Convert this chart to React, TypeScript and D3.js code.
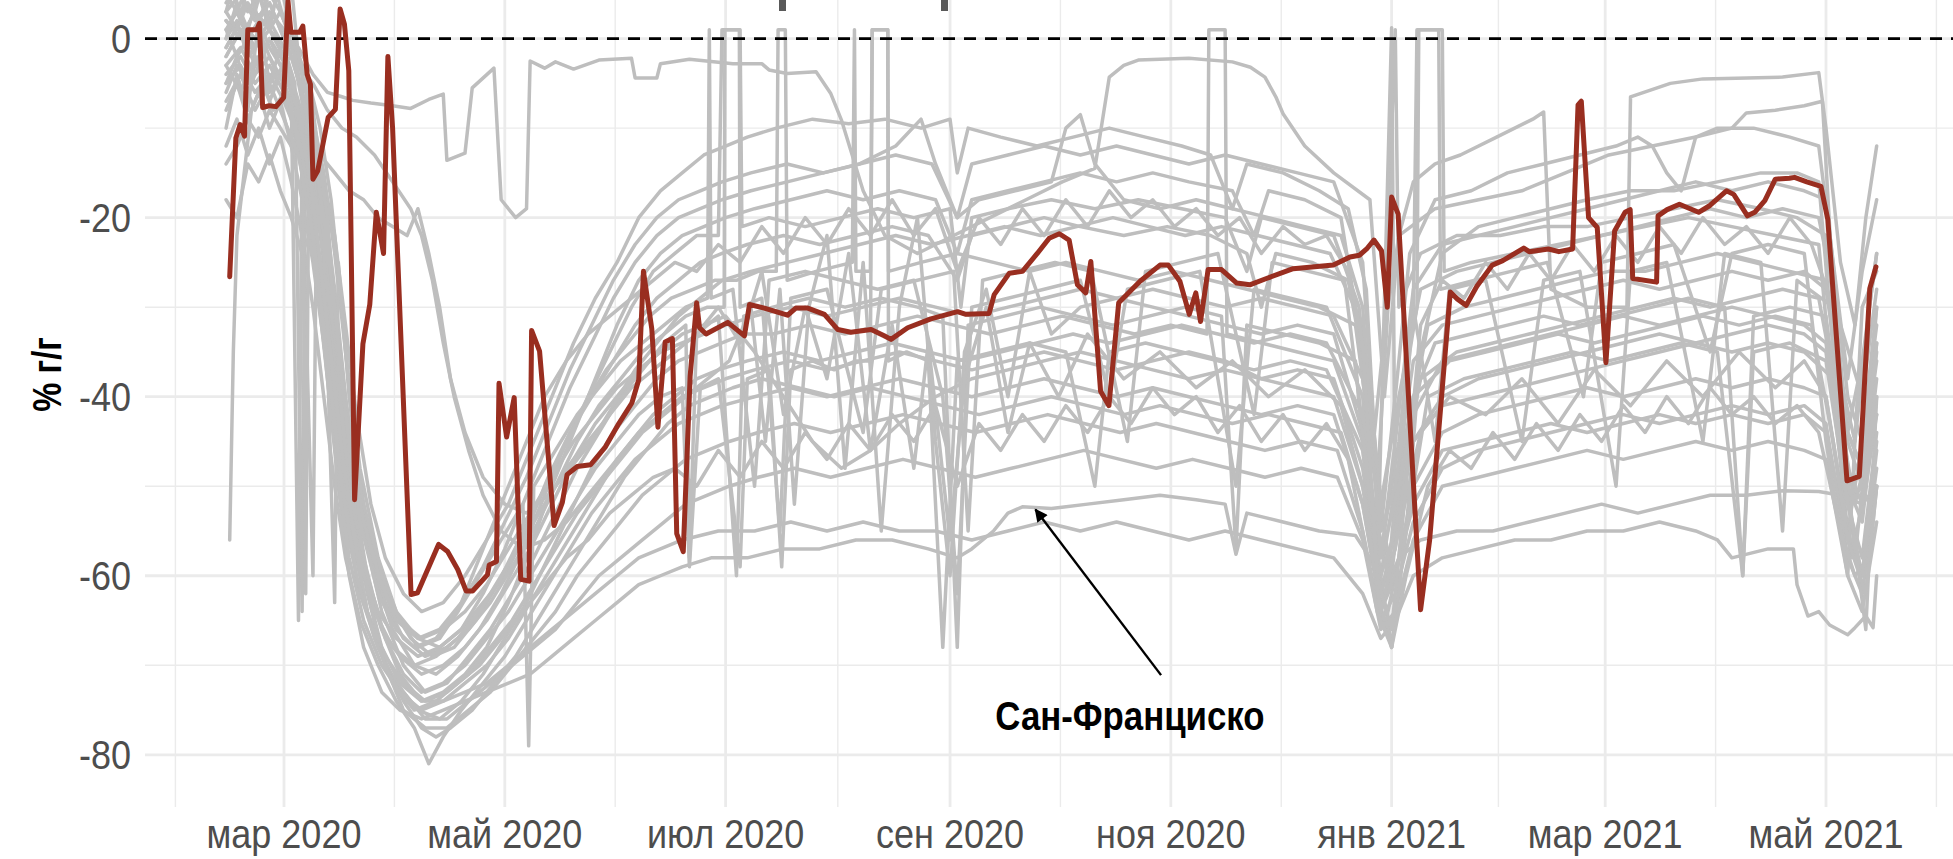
import React from "react";
import * as d3 from "d3";

// Day offsets are counted from 2020-03-01; values are % y/y
const START = Date.UTC(2020, 2, 1);
const monthNames = ["янв", "фев", "мар", "апр", "май", "июн", "июл", "авг", "сен", "окт", "ноя", "дек"];
const yTicks = [0, -20, -40, -60, -80];
const yMinor = [-10, -30, -50, -70];
const yTitle = "% г/г";
const annotationLabel = "Сан-Франциско";
const annotationText: [number, number] = [233.7, -77.2];
const annotationArrow: [number, number, number, number] = [242.3, -71.1, 207.6, -52.6];

const redCity: [number, number][] = [[-15,-26.6],[-13.3,-11.1],[-12.1,-9.6],[-10.9,-10.9],[-10,1],[-7.5,1],[-6.8,1.7],[-5.9,-7.7],[-4.1,-7.5],[-2.2,-7.6],[-0.1,-6.6],[1.1,4.2],[1.9,0.7],[4.3,0.7],[5.2,1.4],[6.4,-4],[7.3,-5.1],[8,-15.7],[9.3,-14.8],[12.2,-8.8],[14.2,-7.9],[15.5,3.3],[16.7,1.6],[17.9,-3.6],[19.5,-51.5],[21.8,-34.1],[23.7,-29.7],[25.5,-19.4],[27.5,-24],[28.7,-2],[30,-10],[35.1,-62.1],[36.9,-61.9],[42.7,-56.5],[45.2,-57.3],[48,-59.3],[50.3,-61.7],[52.1,-61.7],[56.2,-59.9],[56.7,-58.8],[58.7,-58.4],[59.4,-38.5],[61.5,-44.5],[63.6,-40.1],[65.4,-60.4],[67.7,-60.6],[68.4,-32.6],[70.6,-34.9],[74.6,-54.4],[76.9,-51.8],[78.2,-48.7],[81,-47.8],[84.7,-47.6],[88.8,-45.6],[92.5,-43],[96.1,-40.7],[98,-38.1],[99.3,-26],[101.6,-32.4],[103.3,-43.4],[105.3,-33.9],[107.3,-33.5],[108.5,-55.3],[110.3,-57.3],[112.2,-37.7],[114,-29.5],[114.8,-32.3],[116.6,-33],[122.6,-31.7],[127.2,-33.2],[128.6,-29.7],[132.7,-30.1],[139.1,-30.9],[141.4,-30.1],[144.7,-30.1],[149.3,-30.8],[153,-32.5],[156.6,-32.8],[162.2,-32.5],[165.8,-33.2],[167.7,-33.6],[172.3,-32.3],[178.7,-31.3],[186.1,-30.5],[188.4,-30.8],[194.8,-30.7],[196.2,-28.6],[200.4,-26.2],[204,-26],[208.1,-24],[211.4,-22.3],[214.2,-21.8],[216.9,-22.5],[219.2,-27.5],[221.5,-28.4],[222.9,-24.9],[225.6,-39.4],[227.9,-41],[230.6,-29.5],[236.5,-27.1],[242,-25.3],[244.3,-25.3],[247.5,-27.1],[250.1,-30.8],[251.9,-28.4],[253.2,-31.6],[255.3,-25.8],[259,-25.8],[263.2,-27.3],[266.8,-27.5],[271.4,-26.8],[278.8,-25.7],[289.9,-25.3],[294.5,-24.4],[297.1,-24.2],[299.1,-23.5],[301.1,-22.5],[303.2,-23.7],[304.8,-30],[306,-17.7],[307.8,-19.6],[314,-63.8],[316.5,-56],[322.2,-28.3],[324.2,-29.1],[326.6,-29.8],[329.5,-27.7],[333.8,-25.3],[336.7,-24.8],[342.5,-23.4],[344,-23.8],[349.3,-23.5],[352.2,-23.8],[356,-23.5],[357.5,-7.4],[358.4,-7],[360.4,-20],[362.8,-21.1],[365.2,-36.2],[367.6,-21.5],[370.5,-19.4],[371.9,-19.1],[372.6,-26.8],[379.2,-27.2],[379.6,-19.8],[382.1,-19.1],[385.5,-18.5],[390.8,-19.4],[393.7,-18.7],[398.5,-17],[400.5,-17.4],[404.3,-19.8],[406.3,-19.4],[409.1,-18.1],[412,-15.7],[415.9,-15.6],[417.3,-15.5],[420.7,-16],[424.6,-16.5],[426.5,-20.2],[431.8,-49.4],[435.2,-48.9],[438.1,-27.9],[439.8,-25.5]];

const city01: [number, number][] = [[-16,-1],[-12,2],[-8,-1],[-4,1],[0,-2],[4,-1],[8,-4],[12,-6],[16,-6.5],[19,-6.9],[24,-7.2],[30,-7.5],[35,-7.8],[40,-6.8],[44,-6.2],[45,-13.6],[50,-12.8],[52,-5.5],[58,-3.3],[60,-18],[64,-20],[67,-19],[68,-2.5],[72,-3.3],[75,-2.6],[80,-3.4],[87,-2.4],[96,-2.2],[97,-4.4],[103,-4.4],[104,-2.8],[112,-2.3],[124,-2.8],[132,-2.8],[134,-3.5],[139,-3.9],[147,-3.7],[151,-6.1],[154,-9.1],[160,-17],[166,-22],[175,-24],[185,-22],[195,-20],[205,-18],[215,-16],[224,-14.5],[228,-4.3],[232,-3],[236,-2.4],[250,-2.2],[262,-2.6],[267,-3.2],[271,-4.3],[274,-6.5],[276,-8.4],[282,-12],[290,-15],[300,-18],[304,-40],[308,-22],[312,-16],[318,-14],[325,-13],[335,-11],[345,-9],[348,-8.2],[350,-28],[360,-30],[371,-30],[372,-6.5],[383,-5],[392,-4.5],[414,-4.3],[424,-3.8],[426,-10],[430,-25],[434,-32],[437,-20],[440,-12]];
const city02: [number, number][] = [[-16,1],[-13,3],[-10,0],[-7,2],[-4,-1],[-1,-3],[2,-2],[5,-6],[8,-10],[11,-16],[14,-22],[17,-32],[20,-42],[24,-52],[28,-58],[33,-62],[38,-64],[44,-63],[50,-60],[56,-56],[62,-52],[68,-46],[74,-40],[80,-34],[86,-29],[92,-25],[98,-20],[104,-17],[110,-15],[116,-13],[122,-12],[128,-11],[136,-10],[146,-9],[156,-9.5],[166,-9],[176,-10],[184,-9],[186,-15],[189,-10],[198,-11],[208,-12],[218,-11],[228,-10],[238,-11],[248,-12],[256,-13],[262,-19],[266,-14],[276,-15],[286,-17],[294,-19],[299,-28],[302,-50],[305,-30],[308,-22],[318,-19],[330,-18],[342,-17],[354,-15],[366,-13],[378,-12],[390,-11],[400,-10],[404,-8.3],[412,-8],[420,-7.5],[425,-7],[428,-28],[432,-44],[436,-36],[440,-24]];
const city03: [number, number][] = [[-16,-3],[-12,-1],[-8,-4],[-4,-2],[0,-5],[3,-8],[6,-14],[9,-22],[12,-30],[15,-40],[18,-50],[22,-60],[27,-68],[32,-72],[38,-74],[44,-73],[50,-71],[56,-68],[62,-63],[68,-57],[74,-50],[80,-44],[86,-38],[92,-32],[98,-27],[104,-24],[110,-22],[116,-21],[122,-20],[130,-19],[140,-18],[150,-17],[160,-18],[170,-17],[180,-18],[186,-24],[190,-18],[200,-17],[210,-16],[220,-15],[230,-16],[240,-15],[250,-16],[262,-17],[268,-22],[272,-17],[282,-18],[292,-20],[298,-35],[302,-62],[306,-68],[310,-55],[314,-35],[320,-24],[330,-21],[340,-20],[350,-19],[360,-18],[372,-17],[384,-17],[396,-16],[408,-15],[418,-15],[424,-16],[428,-35],[432,-52],[436,-50],[440,-30]];
const city04: [number, number][] = [[-16,0],[-13,2],[-10,-2],[-6,0],[-2,-4],[1,-3],[4,-7],[7,-12],[10,-20],[13,-28],[16,-38],[20,-50],[25,-60],[30,-66],[36,-70],[42,-71],[48,-69],[54,-66],[60,-62],[66,-57],[72,-51],[78,-45],[84,-40],[90,-35],[96,-30],[102,-26],[108,-24],[114,-22],[120,-22],[121,1],[126,1],[126.5,-21],[134,-20],[144,-21],[154,-20],[164,-19],[174,-20],[184,-19],[187,-30],[190,-20],[200,-19],[212,-18],[224,-19],[236,-18],[248,-19],[260,-20],[266,-26],[270,-20],[280,-21],[290,-22],[297,-30],[301,-45],[304,-33],[307,1],[308,-30],[314,-24],[324,-22],[336,-22],[348,-21],[360,-21],[372,-20],[384,-19],[396,-18],[408,-19],[418,-20],[426,-22],[430,-38],[434,-45],[438,-30],[440,-24]];
const city05: [number, number][] = [[-16,4],[-13,6],[-10,3],[-7,5],[-4,1],[-1,3],[2,0],[5,-4],[8,-9],[11,-15],[14,-24],[17,-35],[21,-48],[26,-58],[31,-64],[37,-67],[43,-68],[49,-66],[55,-63],[61,-60],[67,-55],[73,-49],[79,-44],[85,-40],[91,-36],[97,-32],[103,-29],[109,-27],[115,-25],[121,-24],[128,-23],[138,-22],[148,-23],[158,-22],[168,-21],[178,-22],[186,-27],[190,-22],[200,-21],[210,-20],[220,-21],[232,-22],[244,-21],[256,-22],[266,-24],[270,-30],[274,-24],[284,-25],[294,-27],[300,-40],[304,-55],[308,-45],[312,-30],[313,1],[320,1],[320.5,-26],[328,-25],[340,-24],[352,-23],[364,-22],[376,-21],[388,-20],[400,-21],[412,-22],[424,-23],[428,-40],[432,-55],[436,-45],[440,-32]];
const city06: [number, number][] = [[-16,-6],[-13,-3],[-10,-5],[-7,-2],[-4,-6],[-1,-4],[2,-9],[5,-15],[8,-60],[9,-18],[12,-26],[15,-35],[19,-46],[24,-56],[29,-63],[35,-67],[41,-69],[47,-68],[53,-65],[59,-61],[65,-56],[71,-51],[77,-46],[83,-41],[89,-37],[95,-34],[101,-31],[107,-29],[113,-28],[119,-27],[125,-27],[131,-26],[136,-26],[136.5,1],[138.5,1],[139,-27],[147,-26],[157,-25],[157.6,1],[158,-26],[162,-26],[162.5,1],[166.8,1],[167,-26],[176,-25],[186,-24],[196,-25],[206,-26],[216,-25],[226,-26],[236,-27],[246,-26],[256,-27],[266,-28],[276,-29],[286,-30],[296,-32],[302,-50],[306,-60],[310,-45],[316,-32],[326,-30],[336,-29],[346,-28],[356,-27],[366,-26],[376,-26],[386,-25],[396,-24],[406,-25],[416,-26],[426,-27],[432,-45],[436,-50],[440,-34]];
const city07: [number, number][] = [[-16,2],[-12,0],[-8,3],[-4,1],[0,-1],[3,-5],[5,-64],[6,-8],[9,-12],[12,-22],[15,-33],[18,-44],[22,-55],[27,-64],[33,-70],[39,-73],[45,-72],[51,-69],[57,-66],[63,-62],[69,-58],[75,-53],[81,-48],[87,-44],[93,-40],[99,-37],[105,-34],[111,-32],[112,-58],[114,-33],[120,-31],[125,-60],[127,-31],[135,-30],[145,-29],[155,-30],[165,-29],[175,-30],[182,-31],[186,-68],[189,-32],[199,-31],[209,-30],[219,-31],[229,-32],[239,-31],[249,-30],[259,-31],[263,-57],[266,-32],[276,-33],[286,-34],[296,-36],[300,-55],[304,-66],[308,-58],[312,-40],[318,-34],[328,-33],[338,-32],[348,-31],[358,-32],[368,-31],[378,-30],[388,-29],[398,-30],[403,-60],[406,-31],[416,-30],[426,-31],[432,-50],[437,-66],[440,-40]];
const city08: [number, number][] = [[-16,-8],[-13,-5],[-10,-9],[-7,-6],[-4,-10],[-1,-7],[2,-12],[5,-18],[8,-25],[11,-34],[14,-44],[17,-54],[21,-62],[26,-68],[31,-72],[37,-75],[43,-76],[49,-74],[55,-71],[61,-67],[67,-63],[73,-58],[79,-53],[85,-48],[91,-44],[97,-41],[103,-38],[109,-36],[115,-35],[121,-34],[127,-33],[135,-33],[145,-32],[155,-33],[165,-32],[175,-31],[185,-32],[195,-33],[205,-32],[215,-31],[225,-32],[235,-33],[245,-32],[255,-33],[255.5,1],[260,1],[260.5,-33],[270,-34],[280,-35],[290,-36],[298,-45],[303,-60],[307,-50],[312,-40],[322,-36],[332,-35],[342,-34],[352,-33],[362,-34],[372,-33],[382,-32],[392,-31],[402,-32],[412,-31],[422,-32],[428,-45],[433,-58],[437,-50],[440,-42]];
const city09: [number, number][] = [[-16,1],[-13,-2],[-10,0],[-7,-3],[-4,0],[-1,-2],[2,-4],[5,-10],[8,-16],[11,-25],[14,-36],[18,-48],[22,-58],[27,-66],[32,-71],[38,-74],[44,-74],[50,-72],[56,-70],[62,-67],[68,-63],[74,-59],[80,-55],[86,-51],[92,-47],[98,-44],[104,-42],[110,-40],[116,-39],[122,-38],[130,-37],[140,-36],[150,-37],[160,-36],[170,-35],[180,-36],[190,-37],[200,-36],[210,-35],[220,-36],[230,-37],[240,-36],[250,-35],[260,-36],[270,-38],[280,-37],[290,-38],[298,-48],[303,-62],[307,-55],[312,-45],[320,-40],[330,-38],[340,-37],[350,-36],[360,-35],[370,-34],[380,-33],[390,-34],[400,-33],[410,-32],[420,-33],[426,-35],[432,-52],[436,-58],[440,-44]];
const city10: [number, number][] = [[-16,-12],[-13,-9],[-10,-13],[-7,-10],[-4,-14],[-1,-11],[2,-16],[5,-22],[8,-30],[11,-40],[14,-50],[17,-58],[21,-65],[26,-70],[31,-74],[36,-77],[40,-81],[44,-78],[49,-75],[55,-72],[61,-69],[67,-65],[73,-61],[79,-57],[85,-53],[91,-50],[97,-47],[103,-45],[109,-43],[115,-42],[121,-41],[130,-40],[140,-39],[150,-40],[160,-39],[170,-38],[180,-39],[190,-40],[200,-39],[210,-38],[220,-39],[230,-40],[240,-39],[250,-40],[260,-41],[270,-42],[280,-41],[290,-42],[298,-52],[303,-64],[307,-60],[312,-50],[320,-44],[330,-42],[340,-41],[350,-40],[360,-39],[370,-40],[380,-39],[390,-38],[400,-39],[410,-38],[420,-39],[426,-40],[432,-55],[436,-60],[440,-48]];
const city11: [number, number][] = [[-16,3],[-12,5],[-8,2],[-4,4],[0,0],[3,-3],[6,-9],[9,-18],[12,-28],[15,-40],[19,-52],[23,-62],[28,-70],[33,-75],[39,-77],[45,-77],[51,-75],[57,-73],[63,-70],[69,-67],[75,-64],[81,-60],[87,-57],[93,-54],[99,-51],[105,-49],[111,-47],[117,-46],[123,-45],[131,-44],[141,-43],[151,-44],[161,-43],[171,-42],[181,-43],[191,-44],[201,-43],[211,-42],[221,-43],[231,-44],[241,-43],[251,-44],[261,-45],[271,-46],[281,-45],[291,-46],[298,-55],[303,-65],[307,-62],[312,-54],[320,-48],[330,-46],[340,-45],[350,-44],[360,-43],[370,-42],[380,-43],[390,-42],[400,-41],[410,-42],[420,-41],[426,-43],[432,-58],[436,-62],[440,-50]];
const city12: [number, number][] = [[-16,-4],[-12,-2],[-8,-5],[-4,-3],[0,-6],[3,-9],[6,-15],[9,-24],[12,-34],[15,-45],[19,-56],[23,-64],[28,-70],[33,-73],[39,-76],[45,-76],[51,-74],[57,-72],[63,-70],[69,-68],[75,-66],[81,-63],[87,-60],[93,-58],[99,-56],[105,-54],[111,-52],[117,-51],[123,-50],[131,-49],[141,-48],[151,-49],[161,-48],[171,-47],[181,-48],[191,-49],[201,-48],[211,-47],[221,-46],[231,-47],[241,-48],[251,-47],[261,-48],[271,-49],[281,-48],[291,-49],[298,-56],[303,-66],[307,-64],[312,-56],[320,-50],[330,-49],[340,-48],[350,-47],[360,-46],[370,-47],[380,-46],[390,-45],[400,-46],[410,-45],[420,-46],[426,-47],[432,-60],[436,-64],[440,-54]];
const sanFrancisco: [number, number][] = [[-16,2],[-12,0],[-8,3],[-4,1],[0,-2],[3,-6],[6,-14],[9,-25],[12,-38],[15,-50],[18,-60],[22,-68],[27,-73],[32,-75],[38,-76],[44,-75],[50,-74],[56,-73],[62,-72],[68,-71],[74,-69],[80,-67],[86,-65],[92,-63],[98,-61],[104,-60],[110,-59],[118,-58],[128,-58],[138,-57],[148,-57],[158,-56],[168,-56],[178,-57],[186,-58],[190,-57],[196,-55],[200,-53],[204,-52.3],[212,-52.5],[222,-52],[232,-51.5],[242,-51],[252,-51.5],[260,-52],[263,-57.6],[266,-53],[276,-54],[286,-55],[296,-55.5],[300,-58],[304,-62],[308,-58],[314,-56],[324,-55],[334,-55],[344,-54],[354,-53],[364,-52],[374,-53],[384,-52],[394,-51],[404,-51],[414,-50.5],[424,-50.6],[430,-51],[436,-52],[440,-50]];
const city14: [number, number][] = [[-16,-5],[-12,-3],[-8,-6],[-4,-4],[0,-7],[3,-10],[6,-17],[9,-27],[12,-38],[15,-49],[18,-58],[22,-65],[27,-70],[32,-73],[38,-75],[44,-74],[50,-73],[56,-72],[62,-70],[68,-68],[74,-66],[80,-64],[86,-62],[92,-60],[98,-58],[104,-57],[110,-56],[120,-55],[130,-55],[140,-54],[150,-55],[160,-54],[170,-55],[180,-55],[190,-56],[200,-55],[210,-54],[220,-55],[230,-54],[240,-55],[250,-56],[260,-55],[270,-56],[280,-57],[290,-58],[298,-62],[303,-67],[307,-65],[312,-60],[320,-58],[330,-57],[340,-56],[350,-56],[360,-55],[370,-55],[380,-54],[390,-55],[396,-56],[400,-58],[410,-57],[417,-57],[418,-61],[421,-64.5],[424,-64],[427,-65.5],[432,-66.6],[434,-65.8],[437,-64.5],[439,-65.8],[440,-60]];
const city15: [number, number][] = [[-16,-10],[-13,-4],[-10,-8],[-7,2],[-4,-5],[-1,-1],[2,-6],[4,-65],[5,-10],[8,-14],[11,-22],[14,-63],[15,-25],[18,-40],[22,-52],[27,-60],[32,-65],[37,-68],[43,-67],[48,-64],[54,-60],[60,-56],[66,-52],[67.6,-79],[69,-50],[75,-46],[81,-42],[87,-39],[93,-36],[99,-34],[105,-32],[111,-30],[117,-29],[117.5,1],[118,-29],[124,-28],[130,-50],[134,-27],[144,-26],[154,-27],[164,-28],[174,-27],[182,-40],[186,-62],[190,-30],[200,-29],[210,-28],[220,-27],[228,-40],[233,-28],[243,-27],[253,-26],[263,-50],[268,-28],[278,-29],[288,-30],[298,-40],[302,-60],[306,1.2],[307,-55],[312,-30],[318,-45],[322,-28],[332,-27],[342,-45],[348,-27],[358,-26],[368,-50],[372,-26],[382,-25],[392,-45],[398,-24],[408,-25],[414,-55],[418,-27],[428,-30],[434,-58],[440,-35]];
const city16: [number, number][] = [[-16,0],[-13,4],[-10,1],[-7,5],[-4,2],[-1,6],[2,1],[5,-3],[6,-62],[7,-5],[10,-10],[13,-18],[16,-30],[19,-44],[23,-56],[28,-63],[33,-67],[39,-69],[45,-68],[51,-66],[57,-63],[63,-59],[69,-55],[75,-50],[81,-45],[87,-41],[93,-38],[99,-35],[105,-33],[111,-31],[117,-30],[121.6,-30],[121.8,1],[125.8,1],[126,-30],[132,-29],[137,-55],[140,-29],[150,-28],[160,-44],[165,-28],[175,-27],[185,-26],[189,-55],[193,-27],[203,-26],[213,-25],[223,-26],[233,-45],[238,-26],[248,-25],[258,-24],[268,-42],[273,-25],[283,-26],[293,-27],[300,-50],[305,-60],[311,-35],[313,-30],[313.5,1],[319,1],[319.5,-28],[329,-27],[339,-26],[349,-25],[359,-40],[364,-25],[374,-24],[384,-23],[394,-35],[400,-24],[410,-23],[420,-24],[426,-45],[432,-60],[436,-30],[440,-26]];
const city17: [number, number][] = [[-16,3],[-13,1],[-10,4],[-7,2],[-4,5],[-1,3],[2,0],[5,-4],[8,-10],[11,-18],[14,-28],[17,-40],[21,-52],[26,-60],[31,-65],[37,-67],[43,-66],[49,-63],[55,-59],[61,-54],[67,-49],[73,-43],[79,-37],[85,-32],[91,-27],[97,-23],[103,-20],[109,-18],[115,-17],[121,-16],[129,-15],[139,-14],[149,-15],[159,-14],[169,-13],[179,-14],[186,-20],[190,-14],[200,-13],[210,-12],[220,-13],[230,-12],[240,-13],[250,-14],[260,-13],[270,-14],[280,-15],[290,-16],[298,-25],[303,-55],[307,-40],[311,-24],[318,-18],[328,-17],[338,-15],[348,-14],[358,-13],[368,-12],[374,-11],[378,-12],[382,-15],[386,-17],[390,-11],[396,-10],[406,-10],[416,-11],[424,-12],[428,-25],[432,-38],[436,-26],[440,-18]];
const city18: [number, number][] = [[-15,-56],[-14,-35],[-13,-22],[-11,-15],[-9,-8],[-6,-5],[-3,-8],[0,-6],[3,-10],[6,-16],[9,-24],[12,-32],[15,-42],[18,-52],[22,-60],[27,-66],[32,-69],[38,-71],[44,-70],[50,-68],[56,-65],[62,-61],[68,-57],[74,-52],[80,-47],[86,-43],[92,-40],[98,-37],[104,-35],[110,-33],[116,-32],[122,-31],[130,-35],[138,-40],[146,-45],[154,-48],[162,-46],[170,-43],[180,-40],[190,-38],[200,-37],[210,-36],[220,-35],[230,-36],[240,-37],[250,-38],[260,-37],[270,-38],[280,-39],[290,-40],[298,-50],[303,-60],[307,-55],[312,-45],[320,-41],[330,-40],[340,-39],[350,-38],[360,-37],[370,-36],[380,-35],[390,-34],[400,-35],[410,-34],[420,-35],[428,-38],[434,-52],[440,-42]];
const city19: [number, number][] = [[-16,-2],[-12,1],[-8,-1],[-4,2],[0,-1],[4,-3],[8,-5],[12,-8],[16,-10],[20,-11],[25,-13],[30,-16],[35,-19],[38,-22],[41,-27],[44,-34],[47,-40],[51,-46],[55,-51],[60,-55],[66,-57],[72,-56],[78,-54],[84,-51],[90,-48],[96,-45],[102,-42],[108,-40],[114,-38],[120,-37],[128,-36],[138,-35],[148,-36],[158,-35],[168,-34],[178,-35],[188,-36],[198,-35],[208,-34],[218,-33],[228,-34],[238,-33],[248,-32],[258,-33],[268,-34],[278,-33],[288,-34],[298,-42],[303,-58],[308,-50],[314,-38],[324,-35],[334,-34],[344,-33],[354,-32],[364,-31],[374,-30],[384,-29],[394,-30],[404,-29],[414,-28],[424,-29],[430,-42],[436,-48],[440,-36]];
const city20: [number, number][] = [[-16,-14],[-13,-12],[-10,-9],[-7,-11],[-4,-8],[-1,-10],[2,-12],[6,-14],[10,-13],[14,-15],[18,-17],[22,-18],[26,-20],[30,-21],[34,-22],[37,-19],[40,-24],[43,-30],[46,-38],[50,-44],[55,-49],[61,-52],[67,-53],[73,-51],[79,-48],[85,-45],[91,-41],[97,-37],[103,-34],[109,-31],[115,-29],[121,-27],[129,-26],[139,-25],[149,-24],[159,-23],[169,-22],[179,-23],[189,-22],[199,-21],[209,-22],[219,-21],[229,-20],[239,-21],[249,-22],[259,-21],[269,-22],[279,-23],[289,-24],[298,-32],[303,-52],[308,-40],[314,-28],[324,-26],[334,-25],[344,-24],[354,-23],[364,-22],[374,-21],[384,-20],[394,-19],[404,-20],[414,-19],[424,-20],[430,-32],[436,-40],[440,-28]];
const city21: [number, number][] = [[-16,-1],[-12,2],[-8,0],[-4,3],[0,1],[3,-2],[6,-8],[9,-15],[12,-25],[15,-37],[19,-50],[23,-60],[28,-67],[33,-71],[38,-73],[44,-72],[50,-70],[56,-67],[62,-64],[68,-60],[74,-56],[80,-52],[86,-48],[92,-45],[98,-42],[104,-40],[110,-39],[112,-59],[115,-39],[120,-38],[126,-59],[128,-38],[134,-37],[137.5,-59],[140,-37],[146,-36],[152,-37],[158,-36],[162,-36],[162.5,1],[166.8,1],[167,-36],[172,-35],[178,-36],[182,-68],[186,-36],[196,-35],[206,-34],[216,-35],[224,-50],[228,-35],[238,-34],[248,-35],[258,-36],[268,-37],[278,-36],[288,-37],[298,-46],[303,-60],[306,-68],[310,-55],[316,-40],[326,-38],[336,-37],[346,-36],[356,-35],[366,-36],[376,-35],[386,-34],[396,-35],[403,-60],[406,-35],[416,-34],[426,-36],[432,-52],[436,-60],[440,-45]];
const city22: [number, number][] = [[-16,-5],[-13,-2],[-10,-6],[-7,-3],[-4,-7],[-1,-4],[2,-8],[5,-13],[8,-20],[11,-29],[14,-40],[17,-50],[21,-58],[26,-64],[31,-67],[37,-69],[43,-68],[49,-66],[55,-62],[61,-57],[67,-51],[73,-45],[79,-39],[85,-34],[91,-29],[97,-25],[103,-22],[109,-20],[115,-19],[121,-18],[129,-17],[139,-16],[149,-15],[159,-14],[169,-12],[176,-9],[180,-14],[186,-20],[192,-18],[202,-17],[212,-16],[216,-10],[220,-8.5],[224,-14],[232,-18],[242,-19],[252,-18],[262,-19],[272,-20],[282,-21],[292,-22],[298,-30],[303,-58],[307,-45],[312,-28],[320,-23],[330,-22],[340,-21],[350,-20],[360,-19],[370,-18],[380,-17],[390,-16],[400,-17],[410,-16],[420,-17],[426,-18],[432,-40],[436,-45],[440,-30]];
const city23: [number, number][] = [[-16,-3],[-12,-6],[-8,-2],[-4,-5],[0,-3],[3,-7],[6,-13],[9,-22],[12,-33],[15,-45],[19,-56],[23,-64],[28,-69],[33,-72],[39,-74],[45,-73],[51,-71],[57,-68],[63,-65],[69,-61],[75,-57],[81,-53],[87,-50],[93,-47],[99,-44],[105,-42],[111,-40],[117,-38],[123,-36],[129,-30],[133,-45],[137,-28],[141,-52],[145,-30],[150,-22],[155,-48],[160,-25],[165,-55],[170,-30],[175,-20],[180,-45],[184,-60],[188,-35],[194,-28],[200,-40],[206,-26],[212,-33],[220,-30],[230,-29],[240,-30],[250,-31],[260,-32],[270,-33],[280,-32],[290,-33],[298,-44],[303,-62],[307,-57],[312,-42],[320,-36],[330,-35],[340,-34],[350,-33],[360,-32],[370,-31],[380,-32],[390,-31],[400,-30],[410,-31],[420,-32],[426,-34],[432,-50],[436,-54],[440,-40]];
const city24: [number, number][] = [[-16,-18],[-13,-20],[-10,-14],[-7,-16],[-4,-13],[-1,-17],[2,-20],[5,-24],[7,-22],[9,-23],[12,-28],[15,-36],[18,-45],[22,-54],[27,-61],[32,-65],[38,-67],[44,-66],[50,-64],[56,-61],[62,-57],[68,-53],[74,-49],[80,-45],[86,-42],[92,-39],[98,-37],[104,-35],[110,-34],[116,-33],[122,-32],[130,-31],[140,-30],[150,-31],[160,-30],[170,-29],[180,-30],[190,-31],[200,-30],[210,-29],[220,-28],[230,-29],[240,-28],[250,-29],[260,-30],[270,-29],[280,-30],[290,-31],[298,-38],[303,-55],[307,-50],[312,-36],[320,-32],[330,-31],[340,-30],[350,-29],[360,-28],[370,-27],[380,-28],[390,-27],[400,-26],[410,-27],[420,-26],[426,-28],[432,-44],[436,-48],[440,-34]];
const city25: [number, number][] = [[-16,3],[-14,6],[-12,2],[-10,7],[-8,3],[-6,6],[-4,1],[-2,5],[0,2],[2,6],[4,-2],[6,-4],[8,-8],[10,-14],[12,-20],[14,-30],[16,-42],[19,-55],[23,-64],[28,-70],[33,-74],[38,-77],[42,-78],[46,-77],[52,-75],[58,-72],[64,-69],[70,-65],[76,-61],[82,-57],[88,-53],[94,-49],[100,-46],[106,-43],[112,-41],[118,-40],[124,-39],[132,-38],[142,-39],[152,-40],[162,-39],[172,-40],[182,-41],[192,-42],[202,-41],[212,-40],[222,-41],[232,-42],[242,-41],[252,-42],[262,-43],[272,-42],[282,-43],[292,-44],[298,-52],[303,-63],[307,-60],[312,-52],[320,-46],[330,-45],[340,-44],[350,-43],[360,-44],[370,-43],[380,-42],[390,-43],[400,-42],[410,-43],[420,-42],[426,-44],[432,-56],[436,-60],[440,-46]];
const city26: [number, number][] = [[-16,-2],[-12,1],[-8,-3],[-4,0],[0,-4],[4,-8],[8,-18],[12,-32],[16,-46],[20,-57],[25,-64],[30,-68],[36,-70],[42,-69],[48,-67],[54,-64],[60,-60],[66,-56],[72,-52],[78,-48],[84,-45],[90,-42],[96,-39],[102,-37],[108,-35],[114,-33],[120,-30],[126,-34],[132,-26],[138,-42],[144,-30],[150,-38],[156,-24],[162,-46],[168,-32],[174,-48],[178,-34],[184,-56],[188,-38],[194,-30],[200,-44],[206,-34],[214,-40],[222,-33],[232,-38],[242,-35],[252,-39],[262,-36],[272,-40],[282,-37],[292,-41],[298,-50],[303,-64],[308,-55],[314,-44],[322,-40],[332,-42],[342,-38],[352,-43],[362,-37],[372,-41],[382,-36],[392,-40],[402,-35],[412,-39],[420,-36],[426,-40],[432,-56],[437,-62],[440,-50]];
const city27: [number, number][] = [[-16,5],[-13,3],[-10,6],[-7,2],[-4,4],[-1,1],[2,-2],[5,-6],[8,-12],[11,-20],[14,-30],[17,-42],[21,-54],[26,-62],[31,-66],[36,-68],[42,-67],[48,-64],[54,-58],[60,-52],[66,-46],[72,-40],[78,-36],[84,-33],[90,-31],[96,-29],[102,-27],[108,-25],[114,-26],[120,-23],[126,-25],[132,-21],[138,-24],[144,-20],[150,-23],[156,-19],[162,-22],[168,-18],[174,-22],[180,-19],[186,-26],[192,-20],[198,-23],[204,-19],[210,-22],[216,-18],[222,-21],[228,-17],[234,-20],[240,-18],[246,-21],[252,-19],[258,-22],[264,-20],[270,-24],[276,-21],[282,-23],[288,-22],[294,-26],[298,-34],[302,-60],[306,-66],[310,-50],[314,-32],[320,-27],[326,-29],[332,-25],[338,-28],[344,-24],[350,-27],[356,-23],[362,-26],[368,-22],[374,-25],[380,-21],[386,-24],[392,-20],[398,-23],[404,-21],[410,-24],[416,-20],[422,-23],[428,-30],[432,-48],[436,-52],[440,-38]];
const city28: [number, number][] = [[-16,-7],[-12,-4],[-8,-8],[-4,-5],[0,-9],[4,-13],[8,-22],[12,-36],[16,-50],[20,-60],[25,-67],[30,-72],[36,-75],[42,-74],[48,-72],[54,-70],[60,-67],[66,-64],[72,-61],[78,-58],[84,-56],[90,-53],[96,-51],[102,-49],[108,-48],[114,-50],[120,-46],[126,-49],[132,-45],[138,-48],[144,-44],[150,-47],[156,-43],[162,-46],[168,-42],[174,-45],[180,-41],[186,-50],[192,-43],[198,-46],[204,-42],[210,-45],[216,-41],[222,-44],[228,-40],[234,-43],[240,-39],[246,-42],[252,-40],[258,-44],[264,-41],[270,-45],[276,-42],[282,-46],[288,-43],[294,-47],[298,-55],[302,-64],[306,-68],[310,-60],[316,-50],[322,-46],[328,-48],[334,-44],[340,-47],[346,-43],[352,-46],[358,-42],[364,-45],[370,-41],[376,-44],[382,-40],[388,-43],[394,-39],[400,-42],[406,-40],[412,-43],[418,-41],[424,-44],[430,-55],[434,-60],[438,-58],[440,-50]];

const grayCities = [city01, city02, city03, city04, city05, city06, city07, city08, city09, city10, city11, city12, sanFrancisco, city14, city15, city16, city17, city18, city19, city20, city21, city22, city23, city24, city25, city26, city27, city28];

const W = 1953;
const H = 859;
const toDate = (d: number) => new Date(START + d * 86400000);

export default function App() {
  const x = d3.scaleUtc().domain([toDate(0), new Date(Date.UTC(2021, 4, 1))]).range([284, 1826]);
  const y = d3.scaleLinear().domain([0, -80]).range([38.6, 754.8]);
  const panel = { left: 145, right: W, top: 0, bottom: 807 };

  const majors = d3.utcMonth.every(2)!.range(new Date(Date.UTC(2020, 0, 1)), new Date(Date.UTC(2021, 7, 1)));
  const minors: Date[] = [];
  for (let i = 0; i < majors.length - 1; i++) {
    minors.push(new Date((majors[i].getTime() + majors[i + 1].getTime()) / 2));
  }
  const visibleMajors = majors.filter((d) => x(d) >= panel.left && x(d) <= panel.right);
  const line = d3.line<[number, number]>().x((d) => x(toDate(d[0]))).y((d) => y(d[1]));

  const [tx, ty] = annotationText;
  const [ax1, ay1, ax2, ay2] = annotationArrow;
  const font = "'Liberation Sans', Arial, sans-serif";
  const sx = 0.9;

  return (
    <svg width={W} height={H} style={{ position: "absolute", left: 0, top: 0, background: "#fff" }}>
      <defs>
        <marker id="arrowHead" viewBox="0 0 10 10" refX="9" refY="5" markerWidth="18" markerHeight="13" orient="auto" markerUnits="userSpaceOnUse">
          <path d="M0,0 L10,5 L0,10 z" fill="#000" />
        </marker>
      </defs>
      <rect x={0} y={0} width={W} height={H} fill="#fff" />
      {yMinor.map((v) => (
        <line key={"ym" + v} x1={panel.left} x2={panel.right} y1={y(v)} y2={y(v)} stroke="#EBEBEB" strokeWidth={1.4} />
      ))}
      {minors.map((d, i) => (
        <line key={"xm" + i} x1={x(d)} x2={x(d)} y1={panel.top} y2={panel.bottom} stroke="#EBEBEB" strokeWidth={1.4} />
      ))}
      {yTicks.map((v) => (
        <line key={"yM" + v} x1={panel.left} x2={panel.right} y1={y(v)} y2={y(v)} stroke="#EBEBEB" strokeWidth={2.8} />
      ))}
      {visibleMajors.map((d, i) => (
        <line key={"xM" + i} x1={x(d)} x2={x(d)} y1={panel.top} y2={panel.bottom} stroke="#EBEBEB" strokeWidth={2.8} />
      ))}
      <g fill="none" stroke="#BEBEBE" strokeWidth={3.5} strokeLinejoin="round" strokeLinecap="round">
        {grayCities.map((s, i) => (
          <path key={i} d={line(s) || ""} />
        ))}
      </g>
      <line x1={panel.left} x2={panel.right} y1={y(0)} y2={y(0)} stroke="#000" strokeWidth={2.6} strokeDasharray="12 9" />
      <path d={line(redCity) || ""} fill="none" stroke="#992E20" strokeWidth={5} strokeLinejoin="round" strokeLinecap="round" />
      <line x1={x(toDate(ax1))} y1={y(ay1)} x2={x(toDate(ax2))} y2={y(ay2)} stroke="#000" strokeWidth={2.4} markerEnd="url(#arrowHead)" />
      <text transform={`translate(${x(toDate(tx))},${y(ty)}) scale(0.87,1)`} textAnchor="middle" fontFamily={font} fontWeight="bold" fontSize={40} fill="#000">{annotationLabel}</text>
      {yTicks.map((v) => (
        <text key={"yl" + v} transform={`translate(131,${y(v)}) scale(${sx},1)`} dy="0.36em" textAnchor="end" fontFamily={font} fontSize={40} fill="#4D4D4D">{String(v)}</text>
      ))}
      {visibleMajors.map((d, i) => (
        <text key={"xl" + i} transform={`translate(${x(d)},848) scale(${sx},1)`} textAnchor="middle" fontFamily={font} fontSize={40} fill="#4D4D4D">
          {monthNames[d.getUTCMonth()] + " " + d.getUTCFullYear()}
        </text>
      ))}
      <text transform={`translate(61,${y(-37.5)}) rotate(-90) scale(0.82,1)`} textAnchor="middle" fontFamily={font} fontWeight="bold" fontSize={40} fill="#000">{yTitle}</text>
      <rect x={779} y={0} width={7} height={11} fill="#595959" />
      <rect x={941} y={0} width={7} height={11} fill="#595959" />
    </svg>
  );
}
